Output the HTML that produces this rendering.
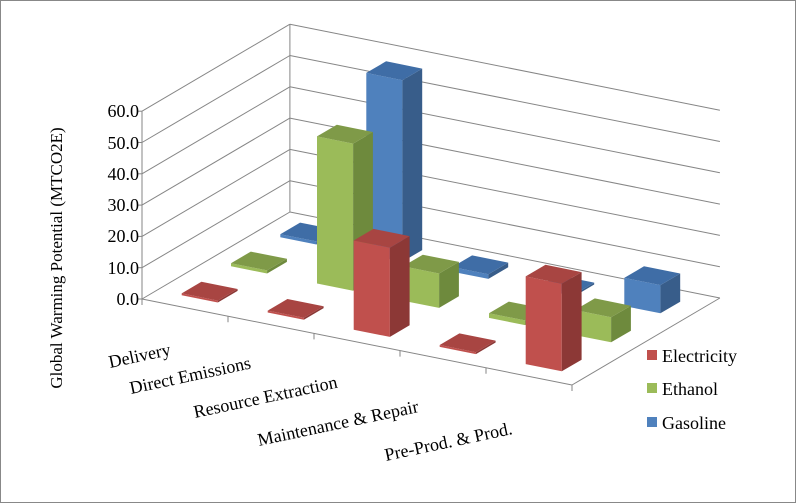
<!DOCTYPE html>
<html><head><meta charset="utf-8"><style>
html,body{margin:0;padding:0;background:#fff}
svg{display:block}
text{font-family:"Liberation Serif",serif;fill:#000}
</style></head><body>
<svg id="s" width="797" height="504" viewBox="0 0 797 504" xmlns="http://www.w3.org/2000/svg">
<rect x="0.5" y="0.5" width="795" height="502" fill="#fff" stroke="#888"/>
<g id="grid" stroke="#868686" stroke-width="1" fill="none"></g>
<g id="bars"></g>
<g font-size="18" text-anchor="end">
<text x="139" y="305">0.0</text><text x="139" y="274">10.0</text><text x="139" y="242">20.0</text>
<text x="139" y="211">30.0</text><text x="139" y="180">40.0</text><text x="139" y="149">50.0</text><text x="139" y="117">60.0</text>
</g>
<text transform="translate(62,258) rotate(-90)" font-size="17" text-anchor="middle">Global Warming Potential (MTCO2E)</text>
<g font-size="18">
<text transform="translate(110,368) rotate(-12)">Delivery</text>
<text transform="translate(131,394) rotate(-12)">Direct Emissions</text>
<text transform="translate(195,418) rotate(-12)">Resource Extraction</text>
<text transform="translate(259,446) rotate(-12)">Maintenance &amp; Repair</text>
<text transform="translate(386,461) rotate(-12)">Pre-Prod. &amp; Prod.</text>
</g>
<rect x="647" y="350" width="10" height="10" fill="#C0504D"/>
<rect x="647" y="383" width="10" height="10" fill="#9BBB59"/>
<rect x="647" y="417" width="10" height="10" fill="#4F81BD"/>
<g font-size="18"><text x="662" y="362">Electricity</text><text x="662" y="395">Ethanol</text><text x="662" y="429">Gasoline</text></g>
</svg>
<script>
var O=[142,299],C=[86,17.2],S=[49.3,-29],V=3.13;
function P(c,s,v){return [O[0]+c*C[0]+s*S[0],O[1]+c*C[1]+s*S[1]-v*V];}
function pts(a){return a.map(function(p){return p[0].toFixed(1)+","+p[1].toFixed(1)}).join(" ");}
var g=document.getElementById('grid'),h='';
function L(a,b){h+='<line x1="'+a[0]+'" y1="'+a[1]+'" x2="'+b[0]+'" y2="'+b[1]+'"/>';}
for(var k=0;k<=6;k++){var v=k*10;L(P(0,0,v),P(0,3,v));L(P(0,3,v),P(5,3,v));}
L(P(0,0,0),P(0,0,60));L(P(0,3,0),P(0,3,60));
L(P(0,0,0),P(5,0,0));L(P(5,0,0),P(5,3,0));
for(var i=0;i<=5;i++){var a=P(i,0,0);L(a,[a[0],a[1]+6]);}
for(var k=0;k<=6;k++){var a=P(0,0,k*10);L(a,[a[0]-5,a[1]]);}
g.innerHTML=h;
var data=[[0.5,0,28.5,0.5,28],[1,47,11,1.5,8],[1,58,1.5,0.5,9]];
var cols=[["#C0504D","#A84542","#8C3836"],["#9BBB59","#7F9A48","#6E8A3D"],["#4F81BD","#3F6DA6","#385D8A"]];
var b='',w=0.42,d=0.4;
for(var s=2;s>=0;s--){for(var i=0;i<5;i++){var v=Math.max(data[s][i],0.6);
var c0=i+0.5-w/2,c1=i+0.5+w/2,s0=s+0.5-d/2,s1=s+0.5+d/2,col=cols[s];
b+='<polygon fill="'+col[0]+'" points="'+pts([P(c0,s0,0),P(c1,s0,0),P(c1,s0,v),P(c0,s0,v)])+'"/>';
b+='<polygon fill="'+col[2]+'" points="'+pts([P(c1,s0,0),P(c1,s1,0),P(c1,s1,v),P(c1,s0,v)])+'"/>';
b+='<polygon fill="'+col[1]+'" points="'+pts([P(c0,s0,v),P(c1,s0,v),P(c1,s1,v),P(c0,s1,v)])+'"/>';
}}
document.getElementById('bars').innerHTML=b;
</script>
</body></html>
